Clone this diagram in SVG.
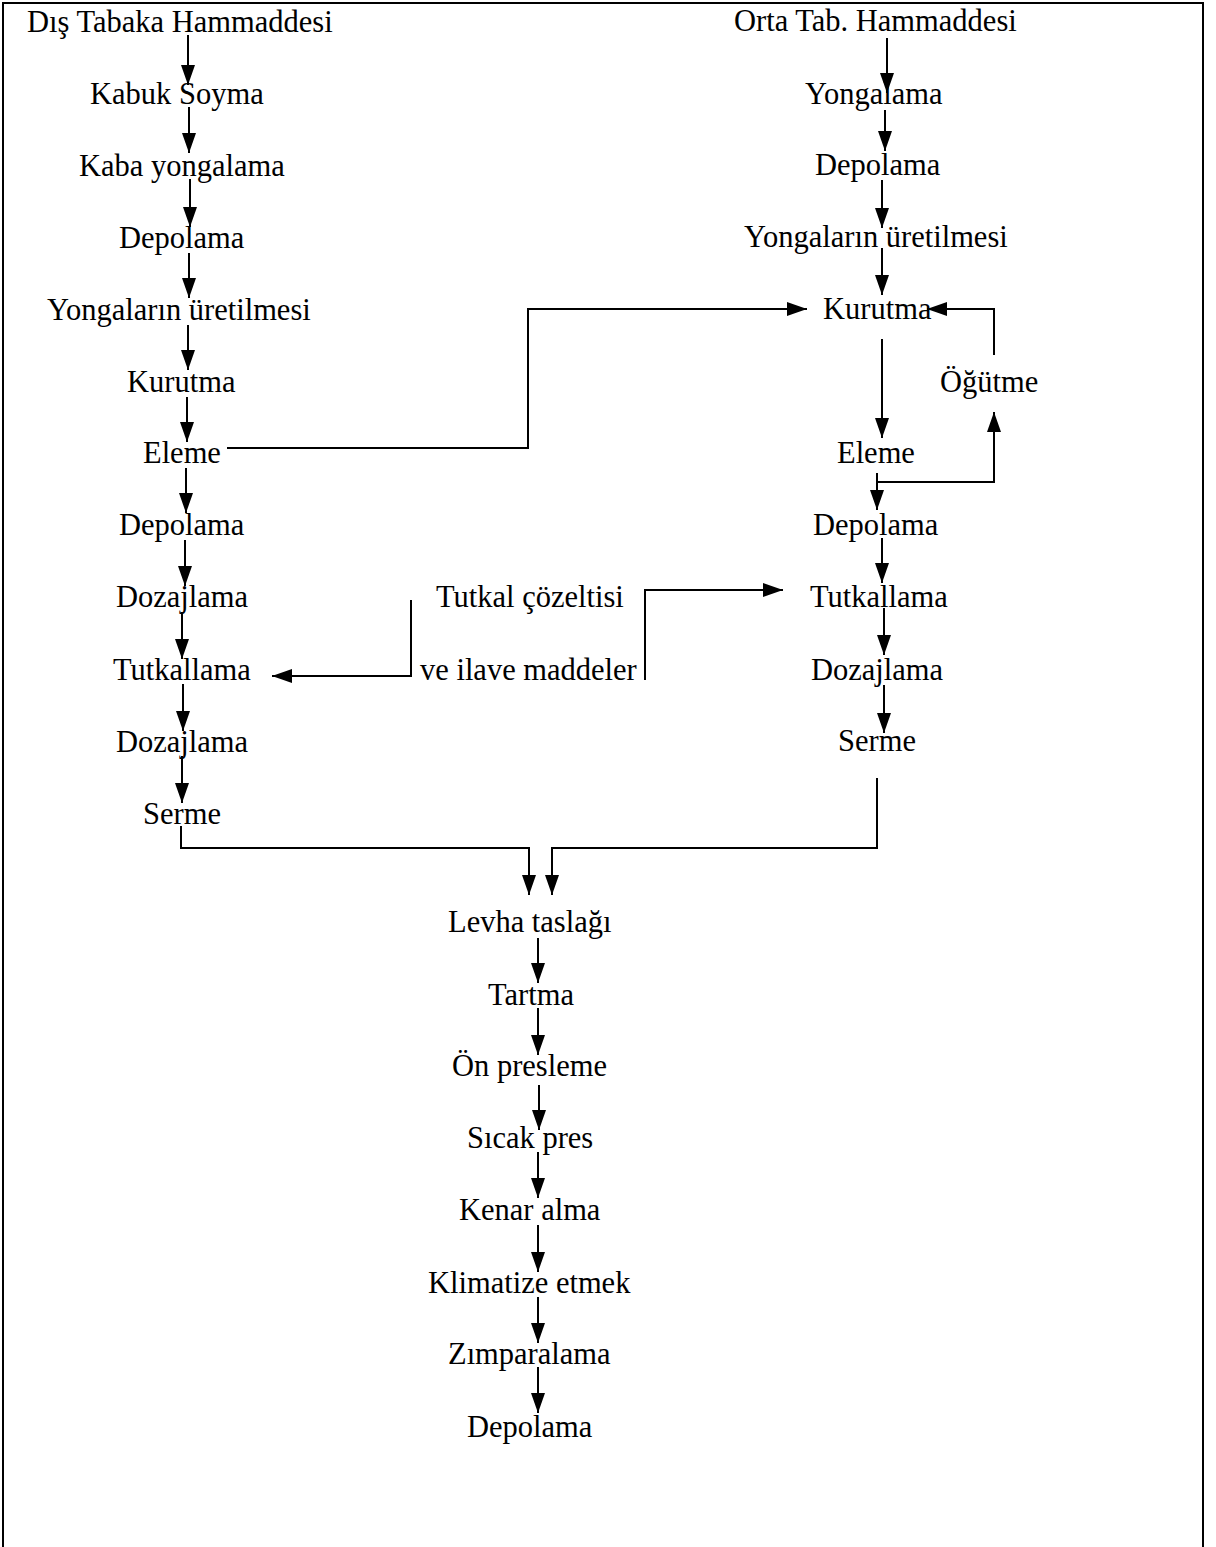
<svg xmlns="http://www.w3.org/2000/svg" width="1216" height="1547" viewBox="0 0 1216 1547">
<style>
text{font-family:"Liberation Serif","Times New Roman",serif;font-size:30.5px;fill:#000}
.c{fill:none;stroke:#000;stroke-width:2}
</style>
<defs>
<marker id="ah" markerUnits="userSpaceOnUse" markerWidth="20" markerHeight="14" refX="20" refY="7" orient="auto">
<path d="M0,0 L20,7 L0,14 z" fill="#000"/>
</marker>
</defs>
<rect width="1216" height="1547" fill="#fff"/>
<path d="M3,1547 V3 H1203 V1547" fill="none" stroke="#000" stroke-width="2"/>

<g id="L1"><text x="27" y="32">Dış Tabaka Hammaddesi</text></g>
<g id="L2"><text x="90" y="104">Kabuk Soyma</text></g>
<g id="L3"><text x="79" y="176">Kaba yongalama</text></g>
<g id="L4"><text x="119" y="248">Depolama</text></g>
<g id="L5"><text x="47" y="320">Yongaların üretilmesi</text></g>
<g id="L6"><text x="127" y="392">Kurutma</text></g>
<g id="L7"><text x="143" y="463">Eleme</text></g>
<g id="L8"><text x="119" y="535">Depolama</text></g>
<g id="L9"><text x="116" y="607">Dozajlama</text></g>
<g id="L10"><text x="113" y="680">Tutkallama</text></g>
<g id="L11"><text x="116" y="752">Dozajlama</text></g>
<g id="L12"><text x="143" y="824">Serme</text></g>

<g id="R1"><text x="734" y="31">Orta Tab. Hammaddesi</text></g>
<g id="R2"><text x="805" y="104">Yongalama</text></g>
<g id="R3"><text x="815" y="175">Depolama</text></g>
<g id="R4"><text x="744" y="247">Yongaların üretilmesi</text></g>
<g id="R5"><text x="823" y="319">Kurutma</text></g>
<g id="R6"><text x="940" y="392">Öğütme</text></g>
<g id="R7"><text x="837" y="463">Eleme</text></g>
<g id="R8"><text x="813" y="535">Depolama</text></g>
<g id="R9"><text x="810" y="607">Tutkallama</text></g>
<g id="R10"><text x="811" y="680">Dozajlama</text></g>
<g id="R11"><text x="838" y="751">Serme</text></g>

<g id="T1"><text x="436" y="607">Tutkal çözeltisi</text></g>
<g id="T2"><text x="420" y="680">ve ilave maddeler</text></g>

<g id="C1"><text x="448" y="932">Levha taslağı</text></g>
<g id="C2"><text x="488" y="1005">Tartma</text></g>
<g id="C3"><text x="452" y="1076">Ön presleme</text></g>
<g id="C4"><text x="467" y="1148">Sıcak pres</text></g>
<g id="C5"><text x="459" y="1220">Kenar alma</text></g>
<g id="C6"><text x="428" y="1293">Klimatize etmek</text></g>
<g id="C7"><text x="448" y="1364">Zımparalama</text></g>
<g id="C8"><text x="467" y="1437">Depolama</text></g>

<g id="connectors" class="c" marker-end="url(#ah)">
<path class="c" marker-end="url(#ah)" d="M188,35 V85"/>
<path class="c" marker-end="url(#ah)" d="M189,107 V153"/>
<path class="c" marker-end="url(#ah)" d="M190,179 V227"/>
<path class="c" marker-end="url(#ah)" d="M189,253 V298"/>
<path class="c" marker-end="url(#ah)" d="M188,325 V370"/>
<path class="c" marker-end="url(#ah)" d="M187,397 V442"/>
<path class="c" marker-end="url(#ah)" d="M186,468 V513"/>
<path class="c" marker-end="url(#ah)" d="M185,540 V586"/>
<path class="c" marker-end="url(#ah)" d="M182,612 V659"/>
<path class="c" marker-end="url(#ah)" d="M183,684 V731"/>
<path class="c" marker-end="url(#ah)" d="M182,756 V803"/>

<path class="c" marker-end="url(#ah)" d="M887,38 V93"/>
<path class="c" marker-end="url(#ah)" d="M885,110 V151"/>
<path class="c" marker-end="url(#ah)" d="M882,180 V228"/>
<path class="c" marker-end="url(#ah)" d="M882,248 V295"/>
<path class="c" marker-end="url(#ah)" d="M882,339 V438"/>
<path class="c" marker-end="url(#ah)" d="M877,473 V510"/>
<path class="c" marker-end="url(#ah)" d="M882,538 V583"/>
<path class="c" marker-end="url(#ah)" d="M884,608 V655"/>
<path class="c" marker-end="url(#ah)" d="M884,685 V733"/>

<path class="c" marker-end="url(#ah)" d="M227,448 H528 V309 H807"/>
<path class="c" marker-end="url(#ah)" d="M877,482 H994 V412"/>
<path class="c" marker-end="url(#ah)" d="M994,355 V309 H927"/>
<path class="c" marker-end="url(#ah)" d="M411,600 V676 H272"/>
<path class="c" marker-end="url(#ah)" d="M645,680 V590 H783"/>
<path class="c" marker-end="url(#ah)" d="M181,826 V848 H529 V895"/>
<path class="c" marker-end="url(#ah)" d="M877,778 V848 H552 V895"/>

<path class="c" marker-end="url(#ah)" d="M538,938 V983"/>
<path class="c" marker-end="url(#ah)" d="M538,1008 V1055"/>
<path class="c" marker-end="url(#ah)" d="M539,1085 V1130"/>
<path class="c" marker-end="url(#ah)" d="M538,1152 V1198"/>
<path class="c" marker-end="url(#ah)" d="M538,1225 V1272"/>
<path class="c" marker-end="url(#ah)" d="M538,1297 V1343"/>
<path class="c" marker-end="url(#ah)" d="M538,1367 V1413"/>
</g>
</svg>
